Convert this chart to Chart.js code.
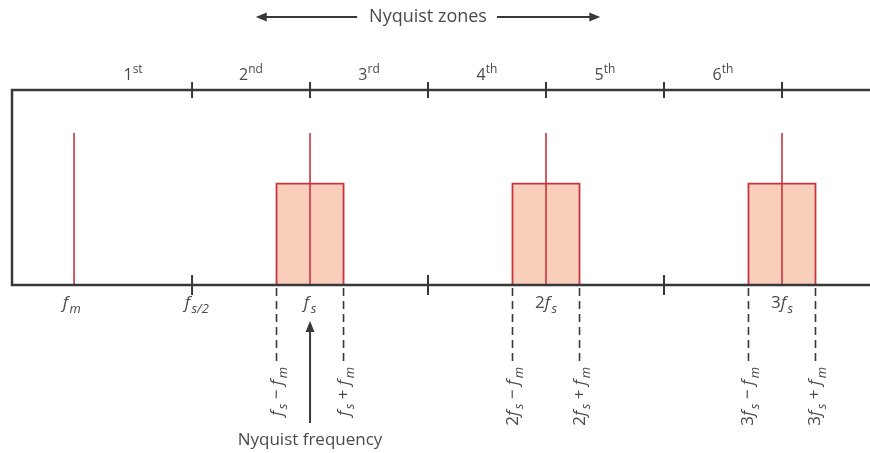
<!DOCTYPE html>
<html lang="en">
<head>
<meta charset="UTF-8">
<title>Nyquist zones</title>
<script src="https://cdn.jsdelivr.net/npm/chart.js"></script>
<style>
  html, body { margin: 0; padding: 0; background: #fff; }
</style>
</head>
<body>
<canvas id="nyquist_chart" width="870" height="453"></canvas>
<script>
// frequencies in units of fs
const xRange = [-0.263, 3.373];
const zoneEdges = [0.5, 1, 1.5, 2, 2.5, 3];
const zoneCenters = [0.25, 0.75, 1.25, 1.75, 2.25, 2.75];
const zoneNames = ['1^st', '2^nd', '3^rd', '4^th', '5^th', '6^th'];
const toneFreqs = [0, 1, 2, 3];          // fm, fs, 2fs, 3fs
const toneLevel = 0.78;
const bandCenters = [1, 2, 3];
const bandHalfWidth = 0.142;              // fm offset of the sidebands
const bandLevel = 0.52;
const baseTicks = [0.5, 1.5, 2.5];
const freqLabelPos = [-0.01, 0.52, 1.0, 2.0, 3.0];
const freqLabels = ['f_m', 'f_s/2', 'f_s', '2f_s', '3f_s'];
const sideLabels = ['f_s − f_m', 'f_s + f_m', '2f_s − f_m', '2f_s + f_m', '3f_s − f_m', '3f_s + f_m'];
const titleSpan = [0.77, 2.23];
const nyquistFreq = 1;

const FONT = "'Open Sans', 'Liberation Sans', sans-serif";
const RED = '#c9343f';
const FILL = '#f9cfbc';
const AXIS = '#383838';
const TEXT = '#4a4a4a';

function parseRich(str) {
    const out = [];
    let i = 0;
    while (i < str.length) {
        const c = str[i];
        if (c === '_' || c === '^') {
            let j = i + 1;
            while (j < str.length && str[j] !== ' ') j++;
            out.push({ t: str.slice(i + 1, j), k: c === '_' ? 'sub' : 'sup' });
            i = j;
        } else if (c === 'f') {
            out.push({ t: 'f', k: 'it' });
            i++;
        } else {
            let j = i;
            while (j < str.length && !'_^f'.includes(str[j])) j++;
            out.push({ t: str.slice(i, j), k: 'n' });
            i = j;
        }
    }
    return out;
}

function runFont(k, size) {
    if (k === 'it') return `italic ${size}px ${FONT}`;
    if (k === 'sub') return `italic ${Math.round(size * 0.75)}px ${FONT}`;
    if (k === 'sup') return `${Math.round(size * 0.72)}px ${FONT}`;
    return `${size}px ${FONT}`;
}

function drawRich(ctx, str, x, y, size, align) {
    const runs = parseRich(str);
    let total = 0;
    runs.forEach(r => {
        ctx.font = runFont(r.k, size);
        r.w = ctx.measureText(r.t).width + (r.k === 'it' ? 1.5 : 0);
        total += r.w;
    });
    let cx = align === 'center' ? x - total / 2 : align === 'right' ? x - total : x;
    ctx.textAlign = 'left';
    ctx.textBaseline = 'alphabetic';
    runs.forEach(r => {
        ctx.font = runFont(r.k, size);
        const dy = r.k === 'sub' ? size * 0.3 : r.k === 'sup' ? -size * 0.42 : 0;
        ctx.fillText(r.t, cx, y + dy);
        cx += r.w;
    });
    return total;
}

function line(ctx, x1, y1, x2, y2) {
    ctx.beginPath();
    ctx.moveTo(x1, y1);
    ctx.lineTo(x2, y2);
    ctx.stroke();
}

function arrowHead(ctx, x, y, dx, dy) {
    // tip at (x,y), pointing along (dx,dy)
    const len = 11, half = 4.5;
    ctx.beginPath();
    ctx.moveTo(x, y);
    ctx.lineTo(x - dx * len - dy * half, y - dy * len + dx * half);
    ctx.lineTo(x - dx * len + dy * half, y - dy * len - dx * half);
    ctx.closePath();
    ctx.fill();
}

const diagram = {
    id: 'diagram',
    afterDatasetsDraw(chart) {
        const { ctx, chartArea: a, scales: { x } } = chart;
        const px = v => x.getPixelForValue(v);
        ctx.save();
        ctx.strokeStyle = AXIS;
        ctx.fillStyle = AXIS;

        // frame
        ctx.lineWidth = 2.5;
        ctx.beginPath();
        ctx.moveTo(a.right, a.top);
        ctx.lineTo(a.left, a.top);
        ctx.lineTo(a.left, a.bottom);
        ctx.lineTo(a.right, a.bottom);
        ctx.stroke();

        // zone boundaries and ticks
        ctx.lineWidth = 2;
        zoneEdges.forEach(v => line(ctx, px(v), a.top - 8, px(v), a.top + 8));
        baseTicks.forEach(v => line(ctx, px(v), a.bottom - 10, px(v), a.bottom + 10));

        // sideband dashed lines
        ctx.lineWidth = 1.6;
        ctx.setLineDash([8, 5]);
        bandCenters.forEach(c => {
            [c - bandHalfWidth, c + bandHalfWidth].forEach(v => line(ctx, px(v), a.bottom + 3, px(v), a.bottom + 76));
        });
        ctx.setLineDash([]);

        // title with arrows
        ctx.fillStyle = TEXT;
        const mid = (titleSpan[0] + titleSpan[1]) / 2;
        ctx.font = `18px ${FONT}`;
        ctx.textAlign = 'center';
        ctx.textBaseline = 'middle';
        ctx.fillText('Nyquist zones', px(mid), 17);
        const tw = ctx.measureText('Nyquist zones').width;
        ctx.fillStyle = AXIS;
        ctx.lineWidth = 2;
        line(ctx, px(titleSpan[0]) + 6, 17, px(mid) - tw / 2 - 12, 17);
        line(ctx, px(mid) + tw / 2 + 10, 17, px(titleSpan[1]) - 6, 17);
        arrowHead(ctx, px(titleSpan[0]), 17, -1, 0);
        arrowHead(ctx, px(titleSpan[1]), 17, 1, 0);

        // zone names
        ctx.fillStyle = TEXT;
        zoneNames.forEach((n, i) => drawRich(ctx, n, px(zoneCenters[i]), a.top - 10, 16, 'center'));

        // frequency labels under the axis
        freqLabels.forEach((t, i) => drawRich(ctx, t, px(freqLabelPos[i]), a.bottom + 23, 17, 'center'));

        // rotated sideband labels
        let k = 0;
        bandCenters.forEach(c => {
            [c - bandHalfWidth, c + bandHalfWidth].forEach(v => {
                ctx.save();
                ctx.translate(px(v), a.bottom + 82);
                ctx.rotate(-Math.PI / 2);
                drawRich(ctx, sideLabels[k++], 0, 5, 17, 'right');
                ctx.restore();
            });
        });

        // Nyquist frequency arrow
        ctx.fillStyle = AXIS;
        ctx.lineWidth = 2;
        const nx = px(nyquistFreq);
        line(ctx, nx, a.bottom + 138, nx, a.bottom + 44);
        arrowHead(ctx, nx, a.bottom + 36, 0, -1);
        ctx.fillStyle = TEXT;
        ctx.font = `17px ${FONT}`;
        ctx.textAlign = 'center';
        ctx.textBaseline = 'alphabetic';
        ctx.fillText('Nyquist frequency', nx, a.bottom + 160);

        ctx.restore();
    }
};

const datasets = [];
toneFreqs.forEach(f => datasets.push({
    data: [{ x: f, y: 0 }, { x: f, y: toneLevel }],
    borderColor: RED,
    borderWidth: 1.6,
    showLine: true,
    pointRadius: 0,
    fill: false
}));
bandCenters.forEach(c => datasets.push({
    data: [
        { x: c - bandHalfWidth, y: 0 },
        { x: c - bandHalfWidth, y: bandLevel },
        { x: c + bandHalfWidth, y: bandLevel },
        { x: c + bandHalfWidth, y: 0 }
    ],
    borderColor: RED,
    backgroundColor: FILL,
    borderWidth: 1.8,
    showLine: true,
    pointRadius: 0,
    fill: 'origin'
}));

const ctx = document.getElementById('nyquist_chart').getContext('2d');
new Chart(ctx, {
    type: 'scatter',
    data: { datasets: datasets },
    options: {
        responsive: false,
        animation: false,
        events: [],
        layout: { padding: { top: 90, left: 12, right: 0, bottom: 168 } },
        scales: {
            x: { type: 'linear', min: xRange[0], max: xRange[1], display: false },
            y: { min: 0, max: 1, display: false }
        },
        plugins: {
            legend: { display: false },
            tooltip: { enabled: false }
        }
    },
    plugins: [diagram]
});
</script>
</body>
</html>
